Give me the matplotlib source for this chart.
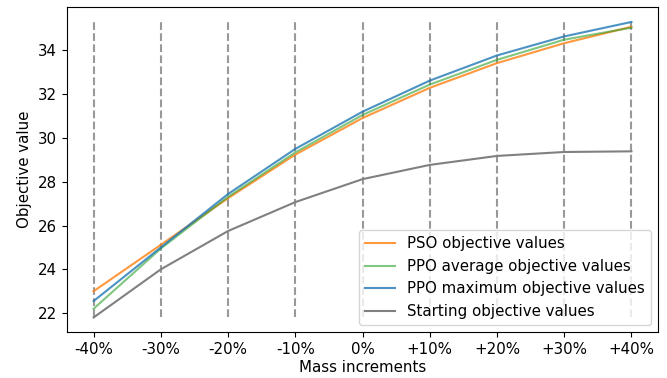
import numpy as np
import matplotlib
matplotlib.use("Agg")
import matplotlib.pyplot as plt

plt.rcParams["font.size"] = 10.8

# mass increments on the x axis
labels = ["-40%", "-30%", "-20%", "-10%", "0%", "+10%", "+20%", "+30%", "+40%"]

# objective values
pso = [23.0, 25.12, 27.25, 29.24, 30.91, 32.29, 33.42, 34.33, 35.08]
ppo_avg = [22.2, 24.95, 27.31, 29.34, 31.05, 32.44, 33.57, 34.49, 35.04]
ppo_max = [22.55, 25.0, 27.44, 29.5, 31.2, 32.62, 33.77, 34.64, 35.3]
start = [21.8, 24.0, 25.75, 27.07, 28.12, 28.77, 29.18, 29.36, 29.39]

x = np.arange(len(labels))

fig = plt.figure(figsize=(6.67, 3.78), dpi=100)
ax = fig.add_axes([0.100, 0.121, 0.887, 0.860])

ymin = min(start)
ymax = max(ppo_max)
ax.vlines(x, ymin, ymax, colors="gray", linestyles="--", alpha=0.8)

ax.plot(x, pso, color="tab:orange", alpha=0.8, label="PSO objective values")
ax.plot(x, ppo_avg, color="tab:green", alpha=0.6, label="PPO average objective values")
ax.plot(x, ppo_max, color="tab:blue", alpha=0.8, label="PPO maximum objective values")
ax.plot(x, start, color="gray", label="Starting objective values")

ax.set_xticks(x)
ax.set_xticklabels(labels)
ax.set_xlabel("Mass increments", labelpad=2)
ax.set_ylabel("Objective value")
ax.legend(loc="lower right")

fig.savefig("out.png", dpi=100)
